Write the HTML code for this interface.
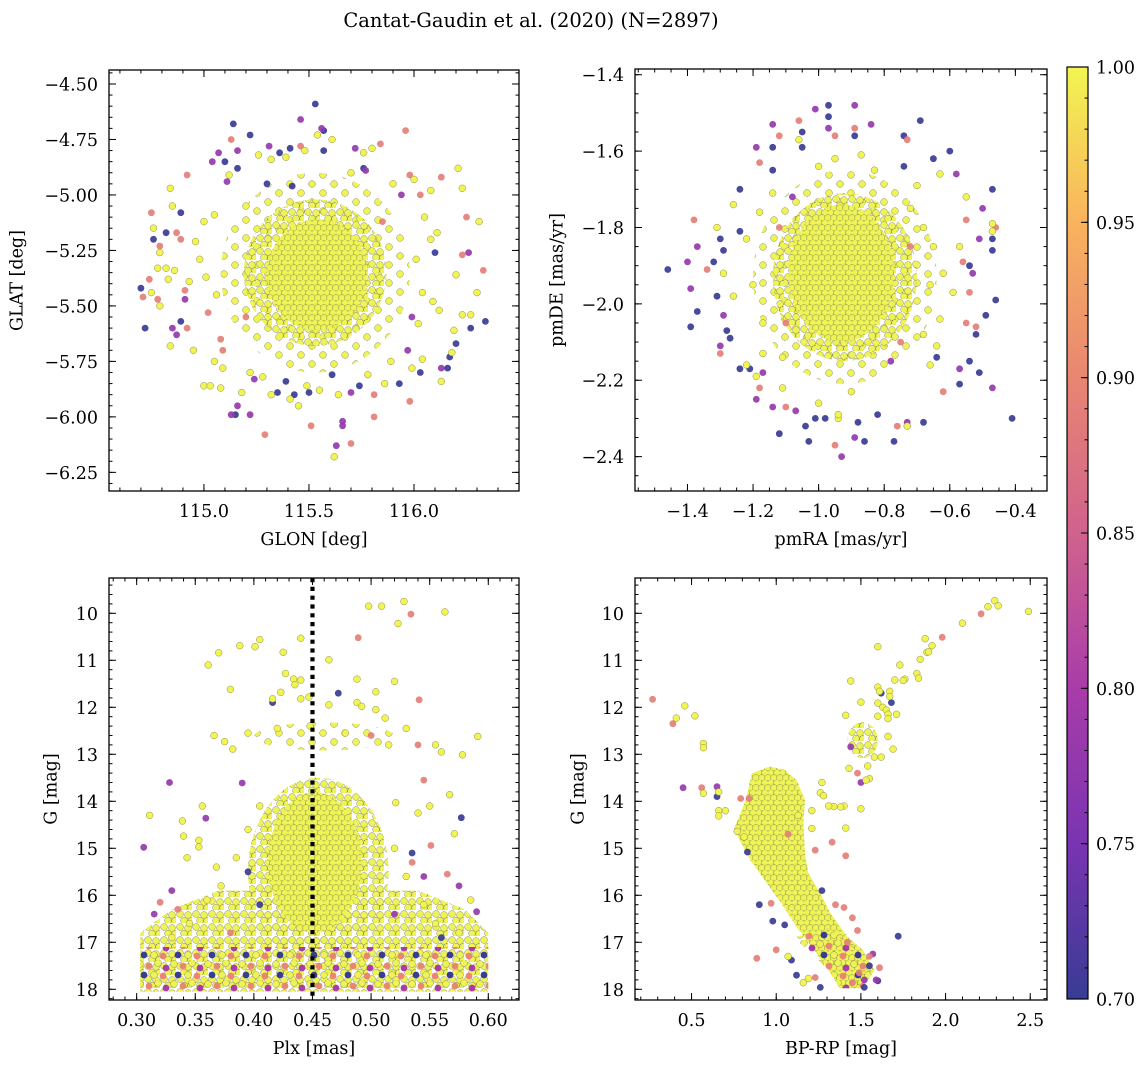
<!DOCTYPE html>
<html><head><meta charset="utf-8">
<style>
html,body{margin:0;padding:0;background:#fff;}
svg{display:block;font-family:"DejaVu Serif","Liberation Serif",serif;}
</style></head>
<body>
<svg id="fig" width="1148" height="1067" viewBox="0 0 1148 1067" xmlns="http://www.w3.org/2000/svg">
<defs>
<pattern id="dense" patternUnits="userSpaceOnUse" width="12" height="10">
<rect width="12" height="10" fill="#e6ec52"/>
<circle cx="3" cy="3" r="3.4" fill="#eef356" stroke="#8a8a50" stroke-width="0.5"/>
<circle cx="9" cy="3" r="3.4" fill="#eef356" stroke="#8a8a50" stroke-width="0.5"/>
<circle cx="0" cy="8" r="3.4" fill="#eef356" stroke="#8a8a50" stroke-width="0.5"/>
<circle cx="6" cy="8" r="3.4" fill="#eef356" stroke="#8a8a50" stroke-width="0.5"/>
<circle cx="12" cy="8" r="3.4" fill="#eef356" stroke="#8a8a50" stroke-width="0.5"/>
</pattern>
<pattern id="medium" patternUnits="userSpaceOnUse" width="16" height="13">
<circle cx="4" cy="4" r="3.4" fill="#eef356" stroke="#8a8a50" stroke-width="0.5"/>
<circle cx="12" cy="5" r="3.4" fill="#eef356" stroke="#8a8a50" stroke-width="0.5"/>
<circle cx="8" cy="10.5" r="3.4" fill="#eef356" stroke="#8a8a50" stroke-width="0.5"/>
<circle cx="15" cy="11" r="3.4" fill="#eef356" stroke="#8a8a50" stroke-width="0.5"/>
</pattern>
<pattern id="sparse" patternUnits="userSpaceOnUse" width="22" height="18">
<circle cx="4" cy="4" r="3.4" fill="#eef356" stroke="#8a8a50" stroke-width="0.5"/>
<circle cx="15" cy="13" r="3.4" fill="#eef356" stroke="#8a8a50" stroke-width="0.5"/>
</pattern>
<pattern id="mixed" patternUnits="userSpaceOnUse" width="34" height="20">
<circle cx="4" cy="4" r="3.4" fill="#eef356" stroke="#8a8a50" stroke-width="0.5"/>
<circle cx="13" cy="6" r="3.4" fill="#e88672"/>
<circle cx="22" cy="3" r="3.4" fill="#eef356" stroke="#8a8a50" stroke-width="0.5"/>
<circle cx="30" cy="8" r="3.4" fill="#a93ca9"/>
<circle cx="8" cy="15" r="3.4" fill="#383c94"/>
<circle cx="18" cy="15" r="3.4" fill="#eef356" stroke="#8a8a50" stroke-width="0.5"/>
<circle cx="27" cy="16" r="3.4" fill="#e88672"/>
</pattern>
<linearGradient id="cbgrad" x1="0" y1="1" x2="0" y2="0">
<stop offset="0" stop-color="#383c94"/>
<stop offset="0.1667" stop-color="#7a34b2"/>
<stop offset="0.3333" stop-color="#a93ca9"/>
<stop offset="0.5" stop-color="#d0628d"/>
<stop offset="0.6667" stop-color="#e88672"/>
<stop offset="0.8333" stop-color="#f9b35e"/>
<stop offset="1" stop-color="#f2f551"/>
</linearGradient>
</defs>
<text x="531" y="27" text-anchor="middle" font-size="19.5">Cantat-Gaudin et al. (2020) (N=2897)</text>
</svg>
<script>
// ---------- data ----------
const glonGlat = [
[115.53,-4.59,0.70],[115.46,-4.66,0.78],[115.14,-4.68,0.70],[115.22,-4.73,0.70],[115.56,-4.70,0.78],[115.57,-4.71,0.70],
[115.96,-4.71,0.89],[115.13,-4.75,0.89],[115.31,-4.78,0.78],[115.36,-4.81,0.70],[115.41,-4.79,0.70],[115.46,-4.78,0.89],
[115.57,-4.80,0.70],[115.72,-4.79,0.78],[115.84,-4.77,0.89],[115.07,-4.81,0.78],[115.16,-4.80,0.78],[115.04,-4.85,0.78],
[115.10,-4.85,0.70],[115.16,-4.88,0.70],[115.76,-4.88,0.70],[115.77,-4.89,0.78],[114.92,-4.91,0.89],[116.13,-4.92,0.89],
[115.98,-4.91,0.89],[115.30,-4.95,0.70],[115.11,-4.94,0.78],[115.42,-4.96,0.70],[116.03,-5.00,0.89],[115.94,-5.00,0.78],
[114.75,-5.08,0.89],[114.89,-5.08,0.70],[114.82,-5.17,0.70],[114.87,-5.17,0.89],[114.76,-5.20,0.70],[114.79,-5.23,0.89],
[114.89,-5.20,0.89],[116.25,-5.10,0.89],[116.10,-5.26,0.70],[116.26,-5.26,0.78],[116.23,-5.27,0.89],[116.33,-5.34,0.89],
[114.70,-5.42,0.70],[114.71,-5.46,0.89],[114.74,-5.38,0.89],[114.78,-5.47,0.89],[114.72,-5.60,0.70],[114.85,-5.60,0.78],
[114.87,-5.63,0.78],[114.89,-5.57,0.70],[114.92,-5.60,0.89],[114.91,-5.47,0.78],[114.91,-5.43,0.89],[115.02,-5.53,0.89],
[116.34,-5.57,0.70],[116.27,-5.60,0.70],[116.20,-5.67,0.70],[116.16,-5.78,0.70],[116.13,-5.78,0.78],[116.17,-5.73,0.70],
[116.03,-5.80,0.70],[115.98,-5.93,0.89],[115.93,-5.85,0.70],[115.81,-5.90,0.89],[115.81,-6.00,0.89],[115.74,-5.86,0.70],
[115.70,-5.89,0.78],[115.70,-6.12,0.89],[115.66,-6.02,0.78],[115.66,-6.04,0.78],[115.63,-6.13,0.78],[115.62,-6.18,1.0],
[115.51,-6.04,0.89],[115.29,-6.08,0.89],[115.13,-5.99,0.78],[115.15,-5.99,0.70],[115.22,-5.99,0.78],[115.16,-5.95,0.78],
[115.39,-5.84,0.70],[115.43,-5.90,0.70],[115.50,-5.89,0.70],[115.61,-5.81,0.70],[115.24,-5.83,0.78],[115.35,-5.89,0.70],
[115.97,-5.70,0.78],[115.99,-5.55,0.78],[115.09,-5.70,0.89],[115.08,-5.65,0.89],[115.20,-5.55,0.89],[115.85,-5.12,0.89],
[114.84,-4.97,1],[114.85,-5.05,1],[114.76,-5.15,1],[114.79,-5.26,1],[114.78,-5.33,1],[114.82,-5.33,1],[114.86,-5.34,1],
[114.83,-5.38,1],[114.75,-5.44,1],[114.79,-5.50,1],[114.84,-5.68,1],[114.95,-5.70,1],[115.00,-5.86,1],[115.03,-5.86,1],
[115.08,-5.87,1],[115.09,-5.78,1],[115.05,-5.75,1],[115.18,-5.89,1],[115.22,-5.80,1],[115.28,-5.82,1],[115.32,-5.90,1],
[115.41,-5.92,1],[115.45,-5.95,1],[115.49,-5.86,1],[115.55,-5.88,1],[115.64,-5.90,1],[115.78,-5.81,1],[115.86,-5.85,1],
[115.89,-5.75,1],[115.99,-5.78,1],[116.04,-5.74,1],[116.13,-5.84,1],[116.18,-5.71,1],[116.19,-5.61,1],[116.23,-5.54,1],
[116.27,-5.54,1],[116.30,-5.44,1],[116.20,-5.36,1],[116.21,-4.88,1],[116.23,-4.97,1],[116.31,-5.12,1],[116.08,-4.98,1],
[116.00,-4.93,1],[115.80,-4.79,1],[115.76,-4.81,1],[115.61,-4.75,1],[115.54,-4.73,1],[115.48,-4.80,1],[115.39,-4.83,1],
[115.26,-4.82,1],[115.32,-4.84,1],[115.12,-4.91,1],[115.05,-5.09,1],[115.00,-5.12,1],[114.96,-5.21,1],[114.98,-5.29,1],
[114.93,-5.39,1],[115.01,-5.37,1],[115.06,-5.45,1],[116.05,-5.10,1],[116.11,-5.17,1],[116.08,-5.20,1],[116.01,-5.29,1],
[116.04,-5.44,1],[116.09,-5.48,1],[116.12,-5.52,1],[116.02,-5.58,1],[115.90,-4.95,1],[115.70,-4.90,1],[115.20,-5.05,1]
];
const pmRaDe = [
[-1.46,-1.91,0.70],[-1.39,-2.06,0.70],[-1.37,-2.02,0.70],[-1.40,-1.89,0.78],[-1.39,-1.96,0.78],[-1.37,-1.85,0.78],
[-1.38,-1.78,0.89],[-1.34,-1.91,0.89],[-1.30,-1.83,0.70],[-1.29,-1.86,0.70],[-1.32,-1.89,0.70],[-1.31,-1.98,0.70],
[-1.29,-2.03,0.78],[-1.30,-2.13,0.89],[-1.30,-2.11,0.78],[-1.28,-2.07,0.70],[-1.27,-2.09,0.70],[-1.24,-1.70,0.70],
[-1.24,-1.81,0.70],[-1.24,-2.17,0.70],[-1.21,-2.17,0.70],[-1.19,-2.25,0.78],[-1.17,-2.18,0.78],[-1.18,-2.22,0.89],
[-1.19,-1.59,0.78],[-1.18,-1.63,0.89],[-1.14,-1.53,0.78],[-1.14,-1.59,0.70],[-1.14,-1.65,0.70],[-1.12,-1.56,0.89],
[-1.06,-1.52,0.89],[-1.05,-1.55,0.70],[-1.05,-1.59,0.70],[-1.01,-1.49,0.78],[-0.97,-1.48,0.70],[-0.97,-1.51,0.70],
[-0.97,-1.54,0.78],[-0.95,-1.56,0.89],[-0.89,-1.48,0.78],[-0.89,-1.54,0.89],[-0.89,-1.56,0.70],[-0.84,-1.53,0.78],
[-0.69,-1.52,0.70],[-0.74,-1.56,0.70],[-0.73,-1.57,0.89],[-0.60,-1.60,0.70],[-0.65,-1.62,0.70],[-0.74,-1.64,0.70],
[-0.58,-1.66,0.78],[-0.47,-1.70,0.70],[-0.50,-1.75,0.78],[-0.55,-1.78,0.89],[-0.51,-1.83,0.78],[-0.47,-1.83,0.70],
[-0.47,-1.86,0.70],[-0.46,-1.80,0.89],[-0.54,-1.90,0.70],[-0.56,-1.89,0.89],[-0.53,-1.92,0.78],[-0.54,-1.97,0.89],
[-0.46,-1.99,0.70],[-0.49,-2.03,0.70],[-0.55,-2.05,0.89],[-0.52,-2.06,0.89],[-0.52,-2.08,0.70],[-0.54,-2.15,0.70],
[-0.51,-2.18,0.70],[-0.57,-2.21,0.70],[-0.47,-2.22,0.78],[-0.41,-2.30,0.70],[-0.57,-2.17,0.78],[-0.62,-2.23,0.89],
[-0.64,-2.14,0.70],[-0.68,-2.31,0.70],[-0.73,-2.31,0.78],[-0.76,-2.32,0.89],[-0.73,-2.32,0.78],[-0.77,-2.36,0.70],
[-0.82,-2.29,0.70],[-0.86,-2.36,0.70],[-0.89,-2.35,0.78],[-0.88,-2.31,0.70],[-0.93,-2.40,0.78],[-0.95,-2.37,0.89],
[-0.98,-2.30,0.70],[-1.01,-2.30,0.70],[-1.04,-2.32,0.70],[-1.03,-2.36,0.70],[-1.12,-2.34,0.70],[-1.07,-2.28,0.78],
[-1.10,-2.27,0.89],[-1.14,-2.27,0.78],
[-1.31,-1.80,1],[-1.29,-1.92,1],[-1.26,-1.74,1],[-1.26,-1.98,1],[-1.22,-2.16,1],[-1.19,-2.19,1],[-1.11,-2.22,1],
[-1.06,-1.57,1],[-1.00,-1.64,1],[-0.95,-1.62,1],[-0.87,-1.61,1],[-0.83,-1.65,1],[-0.94,-2.30,1],[-0.94,-2.29,1],
[-0.73,-2.32,1],[-0.66,-2.16,1],[-0.64,-2.11,1],[-0.63,-2.04,1],[-0.59,-1.97,1],[-0.62,-1.92,1],[-0.65,-1.85,1],
[-0.55,-1.72,1],[-0.47,-1.79,1],[-0.47,-1.81,1],[-0.57,-1.85,1],[-0.70,-1.69,1],[-0.63,-1.66,1],[-1.00,-2.26,1],
[-0.90,-2.23,1],[-1.11,-2.14,1],[-1.17,-2.13,1],[-1.22,-1.83,1],[-1.18,-1.76,1],[-1.14,-1.71,1],[-0.72,-1.75,1],
[-0.68,-1.80,1],[-0.66,-1.95,1],[-0.68,-2.08,1],[-1.20,-1.95,1],[-1.17,-2.05,1],
[-1.12,-1.80,0.89],[-1.10,-2.05,0.89],[-0.75,-2.10,0.89],[-0.72,-1.85,0.89],[-1.08,-1.72,0.78],[-0.78,-2.15,0.78]
];
const plxG = [
[0.498,9.85,1],[0.509,9.85,1],[0.528,9.75,1],[0.563,9.97,1],[0.534,10.02,0.89],[0.523,10.22,1],[0.489,10.52,0.89],
[0.464,10.99,1],[0.440,10.53,1],[0.405,10.56,1],[0.401,10.71,1],[0.388,10.69,1],[0.425,10.83,1],[0.370,10.84,1],
[0.361,11.10,1],[0.380,11.62,1],[0.427,11.28,1],[0.434,11.40,1],[0.440,11.42,1],[0.435,11.52,1],[0.488,11.40,1],
[0.520,11.45,1],[0.541,11.84,0.89],[0.472,11.70,0.70],[0.416,11.90,0.70],[0.416,11.82,1],[0.423,11.68,1],
[0.440,11.82,1],[0.447,11.78,1],[0.464,11.95,1],[0.488,11.90,1],[0.492,11.98,1],[0.504,11.67,1],[0.504,12.05,1],
[0.512,12.23,1],[0.591,12.62,1],[0.578,13.01,1],[0.366,12.60,1],[0.375,12.73,1],[0.382,12.89,1],[0.328,13.60,0.78],
[0.311,14.30,1],[0.306,14.98,0.78],[0.390,13.61,0.78],[0.359,14.36,0.78],[0.339,14.42,1],[0.356,14.10,1],
[0.340,14.74,1],[0.353,14.83,1],[0.353,14.97,1],[0.343,15.20,1],[0.368,15.40,1],[0.577,14.35,0.70],[0.567,13.86,1],
[0.571,14.69,1],[0.550,14.10,1],[0.540,14.25,1],[0.521,14.03,1],[0.551,14.94,0.89],[0.535,15.30,0.89],[0.545,15.60,0.78],
[0.565,15.55,0.89],[0.575,15.80,0.78],[0.585,16.10,1],[0.590,16.35,0.78],[0.330,15.90,0.78],[0.320,16.15,0.89],
[0.315,16.40,0.78],[0.335,16.30,0.89],[0.545,13.55,0.89],[0.500,12.60,0.89],[0.540,12.80,0.89],[0.420,12.45,1],
[0.395,12.55,1],[0.515,12.80,1],[0.530,12.45,1],[0.555,12.80,1],[0.560,12.95,1],[0.448,12.40,1],[0.478,12.55,1],
[0.405,16.20,0.70],[0.395,15.50,0.70],[0.535,15.10,0.70],[0.380,16.80,0.89],[0.560,16.90,0.70],[0.520,16.40,0.78],
[0.372,15.80,1],[0.385,15.20,1],[0.395,14.60,1],[0.405,14.10,1],[0.520,15.00,1],[0.530,15.60,1],[0.545,16.20,1],
[0.360,16.10,1],[0.345,16.60,1],[0.555,16.60,1],[0.575,16.80,1],[0.330,16.90,1]
];
const colorMag = [
[2.29,9.73,1],[2.25,9.86,1],[2.31,9.84,1],[2.49,9.96,1],[2.21,10.01,0.89],[2.10,10.21,1],[1.98,10.51,0.89],
[1.88,10.54,1],[1.92,10.69,1],[1.89,10.83,1],[1.90,10.82,1],[1.85,10.98,1],[1.60,10.71,1],[1.73,11.10,1],
[1.83,11.28,1],[1.84,11.38,1],[1.76,11.40,1],[1.75,11.43,1],[1.70,11.42,1],[1.44,11.44,1],[1.60,11.57,1],
[1.61,11.66,1],[1.62,11.70,0.70],[1.67,11.66,1],[1.67,11.77,1],[1.68,11.90,0.70],[1.50,11.89,1],[1.60,11.91,1],
[1.63,12.00,1],[1.65,12.06,1],[1.66,12.15,1],[1.71,12.15,1],[1.66,12.24,1],[1.60,12.19,1],[1.41,12.17,1],
[1.66,12.62,1],[1.69,12.89,1],[1.62,13.06,1],[1.58,13.06,1],[1.54,13.25,1],[1.48,13.40,0.89],[1.43,13.30,1],
[1.50,13.60,0.78],[1.55,13.52,1],[1.53,13.55,1],[1.44,12.84,0.78],[1.50,14.16,1],[1.40,14.10,1],[1.34,14.11,1],
[1.38,14.12,1],[1.31,14.10,1],[1.27,13.60,1],[1.26,13.82,1],[1.28,13.88,1],[1.21,14.20,1],[1.21,14.58,1],
[1.41,14.57,1],[1.33,14.87,0.89],[1.23,15.04,0.89],[1.41,15.16,0.89],[1.13,14.30,1],[0.77,14.64,1],[0.81,14.76,1],
[0.83,15.08,0.70],[0.66,14.20,1],[0.70,14.20,1],[0.66,14.31,1],[0.57,13.83,1],[0.56,13.71,0.89],[0.45,13.71,0.78],
[0.65,13.69,0.78],[0.66,13.80,1],[0.65,13.90,0.70],[0.57,12.77,1],[0.57,12.86,1],[0.27,11.83,0.89],[0.39,12.35,0.89],
[0.41,12.23,1],[0.46,11.97,1],[0.52,12.18,1],[0.90,16.20,0.70],[0.98,16.55,0.70],[0.97,16.17,0.89],[1.05,16.63,0.70],
[0.885,17.34,0.89],[1.00,17.16,0.89],[1.12,17.70,0.70],[1.26,17.96,0.70],[1.27,15.90,0.70],[1.35,16.20,0.89],
[1.40,16.26,0.89],[1.45,16.48,0.89],[1.48,16.75,0.89],[1.72,16.87,0.70],[1.57,17.25,0.78],[1.61,17.54,0.89],
[1.59,17.80,0.78],[1.60,17.82,0.70],[1.52,17.96,0.70],[1.55,17.50,0.70],[1.16,17.86,1],[1.19,17.77,1],[1.07,17.30,1],
[1.09,17.38,0.70],[1.23,17.75,0.89],[1.45,17.86,0.89],[1.49,17.65,0.89],[1.55,17.30,0.89],[1.52,17.80,0.78],
[1.42,17.00,0.89],[0.79,13.94,0.89],[0.84,13.94,0.89],[1.07,14.70,0.89]
];
// core density regions (data units): [cx, cy, rx, ry, pattern]
const coresP1 = [[115.53,-5.35,0.45,0.45,'sparse'],[115.53,-5.35,0.34,0.33,'medium'],[115.54,-5.36,0.24,0.25,'dense']];
const coresP2 = [[-0.92,-1.93,0.28,0.28,'sparse'],[-0.92,-1.93,0.22,0.22,'medium'],[-0.93,-1.92,0.16,0.18,'dense']];
const coresP3 = [[0.460,12.62,0.06,0.30,'sparse'],[0.455,15.5,0.06,2.0,'medium'],[0.452,15.3,0.04,1.5,'dense']];
const coresP4 = [[1.51,12.70,0.09,0.38,'medium']];
const p3Band = [[0.303,16.8],[0.33,16.3],[0.37,15.9],[0.54,15.9],[0.58,16.3],[0.600,16.8],[0.600,18.05],[0.303,18.05]];
const p3Mixed = [[0.303,17.1],[0.600,17.1],[0.600,18.05],[0.303,18.05]];
const p4MS = [[0.96,13.26],[0.857,13.4],[0.82,13.97],[0.75,14.6],[0.846,15.25],[0.93,15.67],[1.03,16.17],[1.12,16.67],[1.21,17.1],[1.31,17.6],[1.375,17.98],[1.51,17.98],[1.58,17.6],[1.51,17.16],[1.42,16.88],[1.32,16.38],[1.26,15.96],[1.19,15.53],[1.17,15.11],[1.16,14.47],[1.17,13.97],[1.12,13.55],[1.05,13.33]];
const p4MSlow = [[1.10,16.9],[1.20,17.2],[1.32,17.65],[1.38,17.98],[1.51,17.98],[1.57,17.6],[1.50,17.2],[1.40,16.95],[1.30,16.7]];
const plxLine = 0.45;
const cbTicks = [0.70,0.75,0.80,0.85,0.90,0.95,1.00];

// ---------- helpers ----------
const NS = 'http://www.w3.org/2000/svg';
const svg = document.getElementById('fig');
const FS = 17.5;
function mk(tag, attrs, parent){
  const e = document.createElementNS(NS, tag);
  for (const k in attrs) e.setAttribute(k, attrs[k]);
  (parent||svg).appendChild(e);
  return e;
}
const stops = [[0.70,[56,60,148]],[0.75,[122,52,178]],[0.80,[169,60,169]],[0.85,[208,98,141]],[0.90,[232,134,114]],[0.95,[249,179,94]],[1.00,[242,245,81]]];
function pcolor(p){
  if (p<=0.70) return 'rgb(56,60,148)';
  for (let i=1;i<stops.length;i++){
    if (p<=stops[i][0]+1e-9){
      const t=(p-stops[i-1][0])/(stops[i][0]-stops[i-1][0]);
      const a=stops[i-1][1], b=stops[i][1];
      return 'rgb('+a.map((v,j)=>Math.round(v+(b[j]-v)*t)).join(',')+')';
    }
  }
  return 'rgb(242,245,81)';
}
function fmt(v,d){ const s=Math.abs(v).toFixed(d); return (v<-1e-9?'\u2212':'')+s; }
function range(a,b,step){ const out=[]; const n=Math.round((b-a)/step); for(let i=0;i<=n;i++) out.push(a+i*step); return out; }

function makePanel(cfg){
  const g = mk('g',{});
  
  
  const sx = v => cfg.L + (v-cfg.x0)/(cfg.x1-cfg.x0)*(cfg.R-cfg.L);
  const sy = v => cfg.T + (v-cfg.y0)/(cfg.y1-cfg.y0)*(cfg.B-cfg.T);
  const clipId = 'clip-'+cfg.name;
  const cp = mk('clipPath',{id:clipId}, g);
  mk('rect',{x:cfg.L,y:cfg.T,width:cfg.R-cfg.L,height:cfg.B-cfg.T}, cp);
  const plot = mk('g',{'clip-path':'url(#'+clipId+')'}, g);
  
  
  (cfg.polys||[]).forEach(pg=>{
    const poly = mk('polygon',{points:pg.pts.map(p=>sx(p[0]).toFixed(1)+','+sy(p[1]).toFixed(1)).join(' '), fill:'url(#'+pg.fill+')'}, plot);
    
    
  });
  cfg.cores.forEach(c=>{
    const el = mk('ellipse',{cx:sx(c[0]),cy:sy(c[1]),rx:Math.abs(sx(c[0]+c[2])-sx(c[0])),ry:Math.abs(sy(c[1]+c[3])-sy(c[1])),fill:'url(#'+c[4]+')'}, plot);
    
    
  });
  (cfg.polysTop||[]).forEach(pg=>{
    const poly = mk('polygon',{points:pg.pts.map(p=>sx(p[0]).toFixed(1)+','+sy(p[1]).toFixed(1)).join(' '), fill:'url(#'+pg.fill+')'}, plot);
    
    
  });
  const sorted = cfg.points.slice().sort((a,b)=>a[2]-b[2]);
  sorted.forEach(p=>{
    const yel = p[2] > 0.97;
    const c = mk('circle',{cx:sx(p[0]).toFixed(1),cy:sy(p[1]).toFixed(1),r:3.4,fill:pcolor(p[2]),'fill-opacity':yel?1:0.92,stroke:yel?'#8a8a50':'none','stroke-width':0.5}, plot);
    
    
  });
  if (cfg.vline !== undefined){
    const l = mk('line',{x1:sx(cfg.vline),x2:sx(cfg.vline),y1:cfg.T,y2:cfg.B,stroke:'#000','stroke-width':4.2,'stroke-dasharray':'4.2 4.6'}, plot);
    
    
  }
  const fr = mk('rect',{x:cfg.L,y:cfg.T,width:cfg.R-cfg.L,height:cfg.B-cfg.T,fill:'none',stroke:'#000','stroke-width':1.3}, g);
  
  
  const tk = mk('g',{stroke:'#000','stroke-width':1}, g);
  
  
  const xmin=Math.min(cfg.x0,cfg.x1), xmax=Math.max(cfg.x0,cfg.x1), ymin=Math.min(cfg.y0,cfg.y1), ymax=Math.max(cfg.y0,cfg.y1);
  const tline=(x1,y1,x2,y2)=>mk('line',{x1:x1,y1:y1,x2:x2,y2:y2},tk);
  cfg.xminor.forEach(v=>{ if(v<xmin||v>xmax) return; const x=sx(v); tline(x,cfg.B,x,cfg.B-3.5); tline(x,cfg.T,x,cfg.T+3.5); });
  cfg.yminor.forEach(v=>{ if(v<ymin||v>ymax) return; const y=sy(v); tline(cfg.L,y,cfg.L+3.5,y); tline(cfg.R,y,cfg.R-3.5,y); });
  cfg.xmajor.forEach(v=>{ const x=sx(v); tline(x,cfg.B,x,cfg.B-7); tline(x,cfg.T,x,cfg.T+7);
    const t = mk('text',{x:x,y:cfg.B+26,'text-anchor':'middle','font-size':FS}, g); t.textContent=fmt(v,cfg.xdec);
    
    
  });
  cfg.ymajor.forEach(v=>{ const y=sy(v); tline(cfg.L,y,cfg.L+7,y); tline(cfg.R,y,cfg.R-7,y);
    const t = mk('text',{x:cfg.L-11,y:y+6.5,'text-anchor':'end','font-size':FS}, g); t.textContent=fmt(v,cfg.ydec);
    
    
  });
  const xl = mk('text',{x:(cfg.L+cfg.R)/2,y:cfg.B+54,'text-anchor':'middle','font-size':FS}, g); xl.textContent=cfg.xlabel;
  
  
  const cy=(cfg.T+cfg.B)/2;
  const yl = mk('text',{x:cfg.ylx,y:cy,'text-anchor':'middle','font-size':FS,transform:'rotate(-90 '+cfg.ylx+' '+cy+')','dominant-baseline':'middle'}, g); yl.textContent=cfg.ylabel;
  
  
}

makePanel({name:'glon-glat-panel',L:109,R:519,T:70,B:491,x0:114.548,x1:116.5,y0:-4.437,y1:-6.334,
  points:glonGlat,cores:coresP1,xmajor:[115,115.5,116],xminor:range(114.5,116.5,0.1),ymajor:range(-6.25,-4.5,0.25),yminor:range(-6.35,-4.4,0.05),
  xdec:1,ydec:2,xlabel:'GLON [deg]',ylabel:'GLAT [deg]',ylx:18});
makePanel({name:'proper-motion-panel',L:635,R:1047,T:69,B:491,x0:-1.560,x1:-0.3035,y0:-1.385,y1:-2.49,
  points:pmRaDe,cores:coresP2,xmajor:range(-1.4,-0.4,0.2),xminor:range(-1.55,-0.3,0.05),ymajor:range(-2.4,-1.4,0.2),yminor:range(-2.5,-1.4,0.05),
  xdec:1,ydec:1,xlabel:'pmRA [mas/yr]',ylabel:'pmDE [mas/yr]',ylx:558});
makePanel({name:'parallax-mag-panel',L:109,R:519,T:578,B:1000,x0:0.2764,x1:0.6262,y0:9.249,y1:18.228,
  points:plxG,cores:coresP3,polys:[{pts:p3Band,fill:'medium'}],polysTop:[{pts:p3Mixed,fill:'mixed'}],vline:plxLine,
  xmajor:range(0.30,0.60,0.05),xminor:range(0.28,0.62,0.01),ymajor:range(10,18,1),yminor:range(9.4,18.2,0.2),
  xdec:2,ydec:0,xlabel:'Plx [mas]',ylabel:'G [mag]',ylx:52});
makePanel({name:'cmd-panel',L:635,R:1047,T:578,B:1000,x0:0.166,x1:2.599,y0:9.249,y1:18.228,
  points:colorMag,cores:coresP4,polys:[{pts:p4MS,fill:'dense'}],polysTop:[{pts:p4MSlow,fill:'mixed'}],
  xmajor:range(0.5,2.5,0.5),xminor:range(0.2,2.5,0.1),ymajor:range(10,18,1),yminor:range(9.4,18.2,0.2),
  xdec:1,ydec:0,xlabel:'BP-RP [mag]',ylabel:'G [mag]',ylx:579});

// ---------- colorbar ----------
(function(){
  const L=1067,R=1088,T=67,B=999,v0=0.70,v1=1.00;
  const sy = v => B - (v-v0)/(v1-v0)*(B-T);
  const g = mk('g',{});
  
  
  const r = mk('rect',{x:L,y:T,width:R-L,height:B-T,fill:'url(#cbgrad)',stroke:'#000','stroke-width':1.2}, g);
  
  
  range(0.70,1.00,0.01).forEach(v=>{ const y=sy(v); const l=mk('line',{x1:R,x2:R-3.5,y1:y,y2:y,stroke:'#000','stroke-width':1}, g);
    
    
  });
  cbTicks.forEach(v=>{ const y=sy(v);
    const l=mk('line',{x1:R,x2:R-7,y1:y,y2:y,stroke:'#000','stroke-width':1}, g);
    
    
    const t=mk('text',{x:1096,y:y+6.5,'font-size':FS}, g); t.textContent=v.toFixed(2);
    
    
  });
})();
</script>
</body></html>
